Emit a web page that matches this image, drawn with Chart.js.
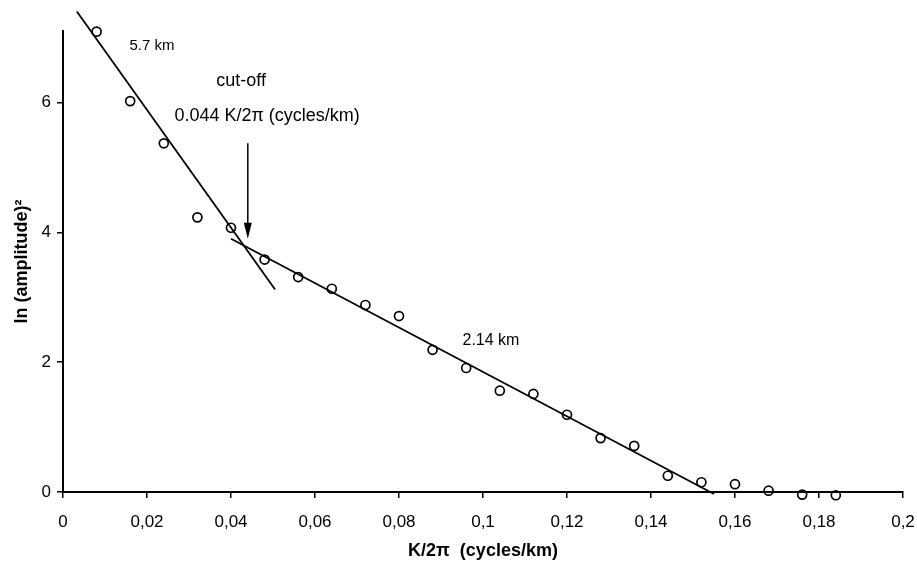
<!DOCTYPE html>
<html lang="en">
<head>
  <meta charset="UTF-8" />
  <title>ln (amplitude)² vs K/2π</title>
  <style>
    body { margin: 0; background: #fff; }
    #wrap { width: 917px; height: 569px; }
  </style>
</head>
<body>
  <div id="wrap"><canvas id="chart" width="917" height="569"></canvas></div>

  <script src="https://cdn.jsdelivr.net/npm/chart.js"></script>
  <script>
    // wavenumber K/2pi (cycles/km)
    const freq = [0.008, 0.016, 0.024, 0.032, 0.040, 0.048, 0.056, 0.064, 0.072, 0.080, 0.088, 0.096,
                  0.104, 0.112, 0.120, 0.128, 0.136, 0.144, 0.152, 0.160, 0.168, 0.176, 0.184];
    // ln(amplitude)^2
    const lnAmp = [7.09, 6.02, 5.37, 4.23, 4.07, 3.58, 3.31, 3.13, 2.88, 2.71, 2.19, 1.91,
                   1.56, 1.51, 1.19, 0.83, 0.71, 0.25, 0.15, 0.12, 0.02, -0.04, -0.05];

    // fitted straight lines (end points)
    const deepFitX = [0.0033, 0.0505];
    const deepFitY = [7.40, 3.12];
    const shallowFitX = [0.0400, 0.1550];
    const shallowFitY = [3.90, -0.03];

    const cutoff = 0.044;
    const xTicks = [0, 0.02, 0.04, 0.06, 0.08, 0.1, 0.12, 0.14, 0.16, 0.18, 0.2];

    const toXY = (xs, ys) => xs.map((x, i) => ({ x: x, y: ys[i] }));
    const comma = v => String(Number(v.toFixed(3))).replace('.', ',');
    const FONT = '"Liberation Sans", Arial, sans-serif';

    // text and arrow drawn over the plot
    const notes = {
      id: 'notes',
      afterDatasetsDraw(chart) {
        const ctx = chart.ctx;
        const xs = chart.scales.x, ys = chart.scales.y;
        ctx.save();
        ctx.fillStyle = '#000';
        ctx.strokeStyle = '#000';
        ctx.textAlign = 'center';
        ctx.textBaseline = 'middle';

        ctx.font = '15px ' + FONT;
        ctx.fillText('5.7 km', xs.getPixelForValue(0.0212), ys.getPixelForValue(6.87));
        ctx.font = '16px ' + FONT;
        ctx.fillText('2.14 km', xs.getPixelForValue(0.1019), ys.getPixelForValue(2.33));

        ctx.font = '18px ' + FONT;
        ctx.fillText('cut-off', xs.getPixelForValue(0.0424), ys.getPixelForValue(6.33));
        ctx.fillText('0.044 K/2\u03c0 (cycles/km)', xs.getPixelForValue(0.0486), ys.getPixelForValue(5.79));

        // arrow pointing at the cut-off
        const ax = xs.getPixelForValue(cutoff);
        const y1 = ys.getPixelForValue(5.37);
        const y2 = ys.getPixelForValue(3.90);
        ctx.lineWidth = 1.5;
        ctx.beginPath();
        ctx.moveTo(ax, y1);
        ctx.lineTo(ax, y2 - 10);
        ctx.stroke();
        ctx.beginPath();
        ctx.moveTo(ax, y2);
        ctx.lineTo(ax - 4, y2 - 16);
        ctx.lineTo(ax + 4, y2 - 16);
        ctx.closePath();
        ctx.fill();
        ctx.restore();
      }
    };

    const lineStyle = {
      showLine: true,
      borderColor: '#000',
      borderWidth: 1.8,
      pointRadius: 0,
      pointHoverRadius: 0,
      fill: false,
      clip: false
    };

    new Chart(document.getElementById('chart'), {
      type: 'scatter',
      data: {
        datasets: [
          Object.assign({ label: 'fit 5.7 km', data: toXY(deepFitX, deepFitY) }, lineStyle),
          Object.assign({ label: 'fit 2.14 km', data: toXY(shallowFitX, shallowFitY) }, lineStyle),
          {
            label: 'spectrum',
            data: toXY(freq, lnAmp),
            pointStyle: 'circle',
            pointRadius: 4.5,
            pointBorderWidth: 1.7,
            borderColor: '#000',
            backgroundColor: 'rgba(0,0,0,0)',
            clip: false
          }
        ]
      },
      options: {
        responsive: false,
        animation: false,
        layout: { padding: { top: 31, right: 14, left: 0, bottom: 0 } },
        plugins: {
          legend: { display: false },
          tooltip: { enabled: false }
        },
        scales: {
          x: {
            type: 'linear',
            min: 0,
            max: 0.2,
            afterBuildTicks: s => { s.ticks = xTicks.map(v => ({ value: v })); },
            afterFit: s => { s.height = 77; s.paddingLeft = 0; s.paddingRight = 0; },
            border: { color: '#000', width: 2 },
            grid: { drawOnChartArea: false, drawTicks: true, tickLength: 6, color: '#000', lineWidth: 1.5 },
            ticks: {
              color: '#000',
              padding: 14,
              maxRotation: 0,
              font: { family: FONT, size: 17 },
              callback: v => comma(v)
            },
            title: {
              display: true,
              text: 'K/2\u03c0  (cycles/km)',
              color: '#000',
              padding: { top: 0, bottom: 7 },
              font: { family: FONT, size: 18, weight: 'bold' }
            }
          },
          y: {
            type: 'linear',
            min: 0,
            max: 7.1,
            afterBuildTicks: s => { s.ticks = [0, 2, 4, 6].map(v => ({ value: v })); },
            afterFit: s => { s.width = 63; s.paddingTop = 0; s.paddingBottom = 0; },
            border: { color: '#000', width: 2 },
            grid: { drawOnChartArea: false, drawTicks: true, tickLength: 6, color: '#000', lineWidth: 1.5 },
            ticks: {
              color: '#000',
              padding: 6,
              font: { family: FONT, size: 17 }
            },
            title: {
              display: true,
              text: 'ln (amplitude)\u00b2',
              color: '#000',
              padding: { top: 11, bottom: 0 },
              font: { family: FONT, size: 18, weight: 'bold' }
            }
          }
        }
      },
      plugins: [notes]
    });
  </script>
</body>
</html>
